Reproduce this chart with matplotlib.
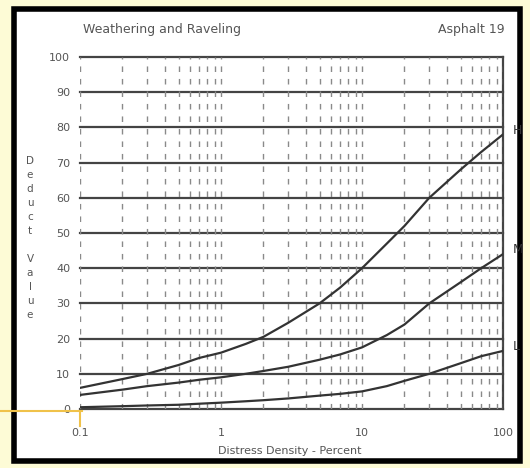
import numpy as np
import matplotlib.pyplot as plt
from matplotlib.patches import Rectangle
from matplotlib.lines import Line2D
from matplotlib.ticker import LogLocator, NullFormatter

# values
density = [0.1, 0.2, 0.3, 0.5, 0.7, 1, 1.5, 2, 3, 5, 7, 10, 15, 20, 30, 50, 70, 100]
high = [6, 8.5, 10, 12.5, 14.5, 16, 18.5, 20.5, 24.5, 30, 34.5, 40, 47, 52, 60, 68, 73, 78]
medium = [4, 5.5, 6.5, 7.5, 8.3, 9, 10, 10.8, 12, 14, 15.5, 17.5, 21, 24, 30, 36, 40, 44]
low = [0.5, 0.8, 1, 1.2, 1.5, 1.8, 2.2, 2.5, 3, 3.8, 4.3, 5, 6.5, 8, 10, 13, 15, 16.5]
curve_labels = ['H', 'M', 'L']
y_ticks = list(range(0, 101, 10))
x_ticks = [0.1, 1, 10, 100]
x_tick_labels = ['0.1', '1', '10', '100']

txt = '#555555'
fig = plt.figure(figsize=(5.3, 4.68), dpi=100)
fig.patch.set_facecolor('#fdfbd6')

# white sheet with black frame (behind the axes)
fig.patches.append(Rectangle((14 / 530, 1 - 461 / 468), 506 / 530, 452 / 468,
                             transform=fig.transFigure, facecolor='white',
                             edgecolor='black', linewidth=4, zorder=-5))

ax = fig.add_axes([80 / 530, 59 / 468, 423 / 530, 352 / 468])
ax.set_xscale('log')
ax.set_xlim(0.1, 100)
ax.set_ylim(0, 100)
ax.patch.set_alpha(0)

# horizontal grid, solid
for v in y_ticks:
    ax.axhline(v, color='#444444', lw=1.6, zorder=1, clip_on=False)

# vertical broken lines at log positions
ax.xaxis.set_minor_locator(LogLocator(base=10, subs=np.arange(2, 10)))
ax.xaxis.set_minor_formatter(NullFormatter())
ax.grid(True, which='both', axis='x', color='#8a8a8a', lw=1.0,
        linestyle=(0, (4, 5)), zorder=1)
ax.axvline(100, color='#444444', lw=1.6, zorder=1, clip_on=False)

for s in ax.spines.values():
    s.set_visible(False)

for ys in (high, medium, low):
    ax.plot(density, ys, color='#333333', lw=1.6, zorder=3)

ax.set_xticks(x_ticks)
ax.set_xticklabels(x_tick_labels)
ax.set_yticks(y_ticks)
ax.tick_params(axis='both', which='both', length=0, colors=txt, labelsize=8)
ax.tick_params(axis='x', pad=14)
ax.tick_params(axis='y', pad=7)

for lab, ys in zip(curve_labels, (high, medium, low)):
    ax.annotate(lab, (100, ys[-1]), xytext=(7, 3), textcoords='offset points',
                color='#333333', fontsize=9, va='center', annotation_clip=False)

fig.text(83 / 530, 1 - 30 / 468, 'Weathering and Raveling', fontsize=9,
         color=txt, va='center')
fig.text(505 / 530, 1 - 30 / 468, 'Asphalt 19', fontsize=9, color=txt,
         ha='right', va='center')
fig.text(290 / 530, 1 - 451 / 468, 'Distress Density - Percent', fontsize=8,
         color=txt, ha='center', va='center')
fig.text(30 / 530, 1 - 238 / 468, '\n'.join('Deduct Value'), fontsize=7.5,
         color=txt, ha='center', va='center', linespacing=1.5)

# yellow highlight at 0.1 / 0
fig.lines.append(Line2D([0, 82 / 530], [1 - 411 / 468, 1 - 411 / 468],
                        transform=fig.transFigure, color='#f0c24a', lw=1.5))
fig.lines.append(Line2D([80 / 530, 80 / 530], [1 - 411 / 468, 1 - 426 / 468],
                        transform=fig.transFigure, color='#f0c24a', lw=1.5))

fig.savefig('out.png', dpi=100, facecolor=fig.get_facecolor())
